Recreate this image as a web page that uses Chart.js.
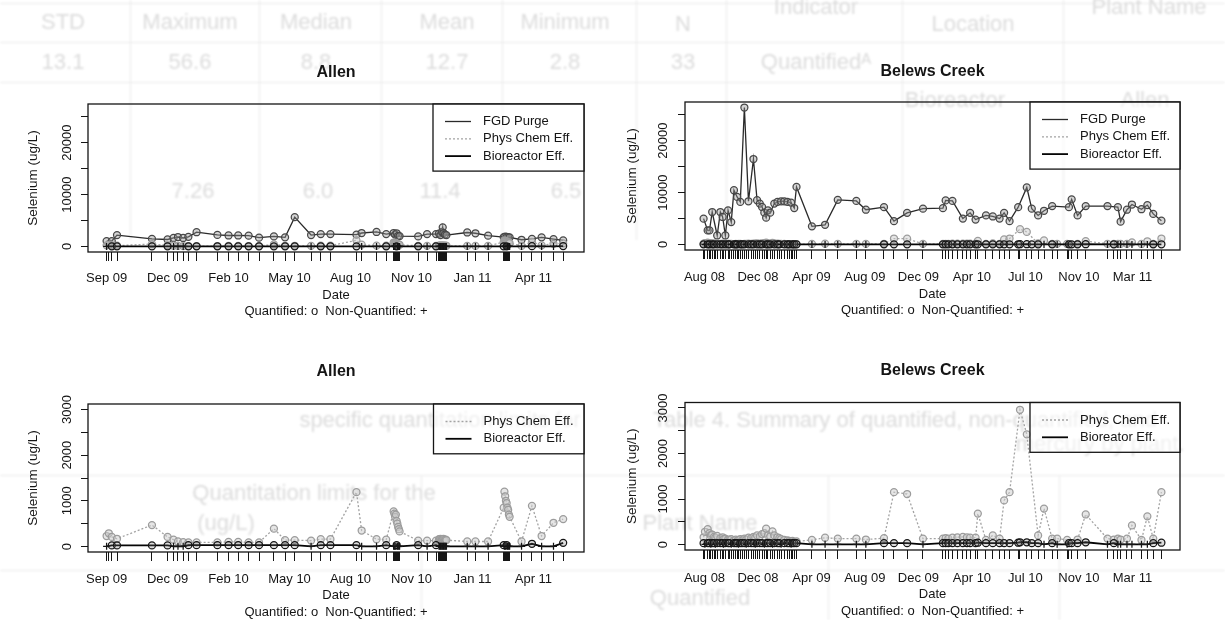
<!DOCTYPE html>
<html>
<head>
<meta charset="utf-8">
<script src="https://cdn.jsdelivr.net/npm/chart.js@4.4.1/dist/chart.umd.min.js"></script>
<style>
  html, body { margin: 0; padding: 0; background: #fff; }
  #page { position: relative; width: 1225px; height: 620px; overflow: hidden; background: #fff; }
  #page canvas { position: absolute; left: 0; top: 0; }
  #sheet { position: absolute; left: 0; top: 0; width: 1225px; height: 620px; filter: blur(1.1px); }
  #sheet span { position: absolute; transform: translate(-50%, -50%); white-space: nowrap;
                font-family: "Liberation Sans", Arial, sans-serif; font-size: 22px; color: #dcdcdc; }
  #sheet i { position: absolute; background: #e9e9e9; }
</style>
</head>
<body>
<div id="page">
  <div id="sheet"></div>
  <canvas id="allenTop" width="1225" height="620"></canvas>
  <canvas id="belewsTop" width="1225" height="620"></canvas>
  <canvas id="allenBottom" width="1225" height="620"></canvas>
  <canvas id="belewsBottom" width="1225" height="620"></canvas>
</div>
<script>
// ---------------- Allen: sampling dates and selenium results (ug/L) ----------------
const allenDates = [
  '2009-09-17','2009-09-20','2009-09-24','2009-10-01','2009-11-17','2009-12-08','2009-12-16','2009-12-22','2009-12-29',
  '2010-01-05','2010-01-16','2010-02-13','2010-02-28','2010-03-13','2010-03-27','2010-04-10','2010-04-30','2010-05-15',
  '2010-05-28','2010-06-19','2010-07-02','2010-07-15','2010-08-19','2010-08-26','2010-09-15','2010-09-28',
  '2010-10-08','2010-10-09','2010-10-10','2010-10-11','2010-10-12','2010-10-13','2010-10-14','2010-10-15','2010-10-16',
  '2010-11-10','2010-11-22','2010-12-04',
  '2010-12-08','2010-12-09','2010-12-10','2010-12-11','2010-12-12','2010-12-13','2010-12-14','2010-12-15','2010-12-16','2010-12-17','2010-12-18',
  '2011-01-15','2011-01-26','2011-02-12',
  '2011-03-05','2011-03-06','2011-03-07','2011-03-08','2011-03-09','2011-03-10','2011-03-11','2011-03-12','2011-03-13',
  '2011-03-29','2011-04-12','2011-04-25','2011-05-11','2011-05-24'
];
const allenFgdPurge = [
  1050, null, 1050, 2200, 1480, 1350, 1640, 1830, 1640,
  1870, 2750, 2230, 2120, 2120, 2080, 1700, 1950, 1760,
  5650, 2210, 2400, 2400, 2280, 2600, 2800, 2400,
  2600, null, 2300, null, 2550, null, 2050, null, 2000,
  1950, 2400, 2400,
  2500, null, 2200, null, 2800, 3700, 2600, null, 2300, null, 2200,
  2700, 2550, 2080,
  1800, null, 1900, null, 1850, null, 1800, null, 1750,
  1300, 1450, 1760, 1430, 1170
];
const allenPhysChem = [
  230, 290, 210, 170, 470, 210, 150, 110, 95,
  90, 90, 90, 100, 100, 90, 90, 390, 140,
  140, 130, 160, 160, 1190, 350, 160, 150,
  770, 720, 650, 700, 560, 500, 430, 380, 330,
  130, 130, 130,
  160, 150, 170, 140, 160, 150, 170, 140, 130, 150, 140,
  110, 110, 110,
  850, 1200, 1100, 1000, 950, 850, 800, 700, 650,
  110, 890, 230, 520, 600
];
const allenBioreactor = [
  5, null, 25, 25, 25, 25, 5, 5, 5,
  30, 30, 30, 30, 30, 30, 30, 30, 30,
  30, 5, 30, 30, 30, 5, 5, 30,
  5, 5, 5, 5, 30, 5, 5, 5, 5,
  30, 5, 30,
  5, 5, 5, 5, 5, 5, 5, 5, 5, 5, 5,
  5, 5, 5,
  30, 5, 5, 5, 30, 5, 5, 5, 5,
  5, 60, 5, 5, 80
];
// 1 = quantified result (o), 0 = non-quantified (+)
const allenBioreactorQuantified = [
  0, null, 1, 1, 1, 1, 0, 0, 0,
  1, 1, 1, 1, 1, 1, 1, 1, 1,
  1, 0, 1, 1, 1, 0, 0, 1,
  0, 0, 0, 0, 1, 0, 0, 0, 0,
  1, 0, 1,
  0, 0, 0, 0, 0, 0, 0, 0, 0, 0, 0,
  0, 0, 0,
  1, 0, 0, 0, 1, 0, 0, 0, 0,
  0, 1, 0, 0, 1
];
const allenTickDates = ['2009-09-17','2009-12-08','2010-02-28','2010-05-21','2010-08-11','2010-11-01','2011-01-22','2011-04-14'];
const allenTickLabels = ['Sep 09','Dec 09','Feb 10','May 10','Aug 10','Nov 10','Jan 11','Apr 11'];
const allenRange = ['2009-08-23', '2011-06-21'];

// ---------------- Belews Creek: sampling dates and selenium results (ug/L) ----------------
const belewsDates = [
  '2008-08-19','2008-08-22','2008-08-28','2008-09-01','2008-09-04','2008-09-07','2008-09-11','2008-09-14','2008-09-18','2008-09-25',
  '2008-09-30','2008-10-02','2008-10-06','2008-10-12','2008-10-15','2008-10-19','2008-10-25','2008-10-29','2008-11-01','2008-11-04',
  '2008-11-08','2008-11-12','2008-11-17','2008-11-21','2008-11-26','2008-12-02','2008-12-07','2008-12-11','2008-12-15','2008-12-21',
  '2008-12-26','2008-12-31','2009-01-04','2009-01-08','2009-01-13','2009-01-18','2009-01-22','2009-01-29','2009-02-02','2009-02-06',
  '2009-02-13','2009-02-20','2009-02-24','2009-02-28','2009-03-03','2009-03-07','2009-03-12',
  '2009-04-15','2009-05-14','2009-06-11','2009-07-22','2009-08-12','2009-09-21','2009-10-13','2009-11-11','2009-12-16',
  '2010-01-29','2010-02-04','2010-02-10','2010-02-19','2010-03-02','2010-03-14','2010-03-23','2010-03-30','2010-04-11','2010-04-16',
  '2010-05-04','2010-05-19','2010-06-03','2010-06-13','2010-06-25','2010-07-14','2010-07-18','2010-08-02','2010-08-13','2010-08-27',
  '2010-09-09','2010-09-27','2010-10-08','2010-10-30','2010-11-03','2010-11-09','2010-11-22','2010-12-10',
  '2011-01-27','2011-02-10','2011-02-19','2011-02-25','2011-03-11','2011-03-22','2011-04-12','2011-04-25','2011-05-08','2011-05-26'
];
const belewsFgdPurge = [
  4980, null, 2710, 2710, null, 6260, null, null, 1740, 6260,
  5300, null, 1740, 6590, null, 4320, 10460, null, 9170, null,
  8200, null, 26400, null, 8330, null, 16470, null, 8530, 7880,
  7230, 6140, 5170, 6590, 6140, null, 7880, 8200, null, 8330,
  8330, 8200, null, 8080, null, 7030, 11100,
  3500, 3800, 8600, 8400, 6700, 7200, 4500, 6100, 6900,
  7000, 8500, null, 8400, null, 5000, null, 6100, 4800, null,
  5600, 5400, 5000, 6100, 4500, 7200, null, 11000, 6900, 5600,
  6500, 7400, null, null, 7200, 8700, 5600, 7400,
  7400, null, 7200, 4400, 6700, 7700, 6800, 7600, 5900, 4600
];
const belewsPhysChem = [
  160, 280, 340, 250, 200, 220, 170, 150, 190, 140,
  160, 120, 130, 110, 100, 120, 90, 110, 80, 100,
  120, 90, 130, 110, 150, 140, 170, 150, 200, 180,
  230, 250, 350, 200, 180, 290, 200, 160, 140, 120,
  100, 90, 80, 70, 80, 60, 70,
  100, 150, 130, 130, 110, 140, 1150, 1110, 130,
  130, 140, 130, 150, 160, 170, 160, 150, 150, 680,
  100, 200, 130, 970, 1150, null, 2960, 2420, null, 200,
  790, 130, 130, 100, null, null, 110, 660,
  130, 110, 130, 110, 130, 420, 100, 620, 130, 1150
];
const belewsBioreactor = [
  30, 5, 30, 30, 5, 30, 30, 5, 30, 30,
  30, 5, 30, 30, 30, 5, 30, 30, 30, 5,
  30, 30, 30, 5, 30, 30, 30, 5, 30, 30,
  30, 5, 30, 30, 30, 5, 30, 30, 30, 5,
  30, 30, 30, 5, 30, 30, 30,
  5, 5, 5, 5, 5, 30, 30, 30, 5,
  30, 30, 30, 30, 30, 30, 30, 30, 30, 40,
  30, 30, 30, 30, 30, 40, 50, 50, 30, 30,
  5, 30, 5, 5, 30, 30, 30, 50,
  5, 30, 5, 5, 5, 5, 5, 5, 30, 40
];
const belewsBioreactorQuantified = [
  1, 0, 1, 1, 0, 1, 1, 0, 1, 1,
  1, 0, 1, 1, 1, 0, 1, 1, 1, 0,
  1, 1, 1, 0, 1, 1, 1, 0, 1, 1,
  1, 0, 1, 1, 1, 0, 1, 1, 1, 0,
  1, 1, 1, 0, 1, 1, 1,
  0, 0, 0, 0, 0, 1, 1, 1, 0,
  1, 1, 1, 1, 1, 1, 1, 1, 1, 1,
  1, 1, 1, 1, 1, 1, 1, 1, 1, 1,
  0, 1, 0, 0, 1, 1, 1, 1,
  0, 1, 0, 0, 0, 0, 0, 0, 1, 1
];
const belewsTickDates = ['2008-08-21','2008-12-17','2009-04-14','2009-08-10','2009-12-06','2010-04-03','2010-07-30','2010-11-25','2011-03-23'];
const belewsTickLabels = ['Aug 08','Dec 08','Apr 09','Aug 09','Dec 09','Apr 10','Jul 10','Nov 10','Mar 11'];
const belewsRange = ['2008-07-09', '2011-07-06'];

// y axes: full-scale panels and zoomed effluent panels
const fullTicks = [0, 5000, 10000, 15000, 20000, 25000];
const fullLabels = [0, 10000, 20000];
const fullLimits = [-1060, 27460];
const effTicks = [0, 500, 1000, 1500, 2000, 2500, 3000];
const effLabels = [0, 1000, 2000, 3000];
const effLimits = [-120, 3120];

// ---------------- faint print of the underlying report page ----------------
const sheetWords = [
  ['Plant Name', 1149, 7], ['Indicator', 816, 7], ['Location', 973, 24], ['N', 683, 24],
  ['Minimum', 565, 22], ['Mean', 447, 22], ['Median', 316, 22], ['Maximum', 190, 22], ['STD', 63, 22],
  ['33', 683, 62], ['Quantified\u1D2C', 816, 62], ['2.8', 565, 62], ['12.7', 447, 62], ['8.8', 316, 62],
  ['56.6', 190, 62], ['13.1', 63, 62],
  ['Allen', 1145, 100], ['Bioreactor', 955, 100],
  ['7.26', 193, 191], ['6.0', 318, 191], ['11.4', 440, 191], ['6.5', 566, 191],
  ['specific quantitation limits for', 440, 420],
  ['Table 4. Summary of quantified, non-quantified, and', 905, 420],
  ['mercury by plant.', 1100, 444],
  ['Quantitation limits for the', 314, 493], ['(ug/L)', 226, 523],
  ['Plant Name', 700, 523], ['Quantified', 700, 598]
];
const sheetRules = [
  // [left, top, width, height]
  [0, 3, 1225, 1], [0, 42, 1225, 1], [0, 82, 1225, 1],
  [130, 0, 1, 240], [259, 0, 1, 240], [381, 0, 1, 240], [502, 0, 1, 240],
  [636, 0, 1, 240], [726, 0, 1, 240], [902, 0, 1, 240], [1063, 0, 1, 240],
  [0, 475, 1225, 1], [0, 570, 1225, 1], [421, 475, 1, 145], [828, 475, 1, 145], [1059, 475, 1, 145]
];
(function drawSheet() {
  const sheet = document.getElementById('sheet');
  sheetRules.forEach(r => {
    const el = document.createElement('i');
    el.style.left = r[0] + 'px'; el.style.top = r[1] + 'px';
    el.style.width = r[2] + 'px'; el.style.height = r[3] + 'px';
    sheet.appendChild(el);
  });
  sheetWords.forEach(w => {
    const el = document.createElement('span');
    el.textContent = w[0];
    el.style.left = w[1] + 'px'; el.style.top = w[2] + 'px';
    sheet.appendChild(el);
  });
})();

// ---------------- drawing ----------------
const INK = '#151515';
const FAMILY = '"Liberation Sans", Arial, Helvetica, sans-serif';
const ms = s => Date.parse(s + 'T00:00:00Z');

function points(dates, values, flags) {
  const out = [];
  dates.forEach((d, i) => {
    if (values[i] === null || values[i] === undefined) return;
    out.push({ x: ms(d), y: values[i], q: flags ? flags[i] : 1 });
  });
  return out;
}

const STYLE = {
  fgd:  { line: '#2a2a2a', width: 1.3, dash: [], pt: '#474747', fill: 'rgba(150,150,150,0.4)' },
  phys: { line: '#a3a3a3', width: 1.3, dash: [2, 2], pt: '#9c9c9c', fill: 'rgba(205,205,205,0.5)' },
  bio:  { line: '#050505', width: 1.8, dash: [], pt: '#151515', fill: 'rgba(120,120,120,0.25)' }
};

function series(key, label, data, order) {
  const s = STYLE[key];
  return {
    label, data, order,
    borderColor: s.line, borderWidth: s.width, borderDash: s.dash,
    tension: 0, fill: false,
    pointStyle: c => (c.raw && c.raw.q === 0) ? 'cross' : 'circle',
    pointRadius: 3.5, pointBorderWidth: 1.25,
    pointBorderColor: s.pt, pointBackgroundColor: s.fill
  };
}

const rPanel = {
  id: 'rPanel',
  afterDatasetsDraw(chart, args, o) {
    const ctx = chart.ctx, a = chart.chartArea;
    const xs = chart.scales.x, ys = chart.scales.y;
    const cx = (a.left + a.right) / 2;
    ctx.save();
    ctx.fillStyle = INK;
    ctx.strokeStyle = INK;

    // plot frame
    ctx.lineWidth = 1.3;
    ctx.strokeRect(a.left, a.top, a.right - a.left, a.bottom - a.top);

    // legend
    const L = o.legend;
    const rowH = 17.3;
    const bottom = a.top + 17.5 + (L.items.length - 1) * rowH + 15;
    ctx.fillStyle = 'rgba(255,255,255,0.55)';
    ctx.fillRect(L.left, a.top, a.right - L.left, bottom - a.top);
    ctx.strokeRect(L.left, a.top, a.right - L.left, bottom - a.top);
    ctx.font = '13px ' + FAMILY;
    ctx.textAlign = 'left';
    ctx.textBaseline = 'middle';
    L.items.forEach((it, i) => {
      const y = a.top + 17.5 + i * rowH;
      const s = STYLE[it.key];
      ctx.save();
      ctx.strokeStyle = s.line;
      ctx.lineWidth = s.width;
      ctx.setLineDash(s.dash);
      ctx.beginPath();
      ctx.moveTo(L.left + 12, y);
      ctx.lineTo(L.left + 38, y);
      ctx.stroke();
      ctx.restore();
      ctx.fillStyle = INK;
      ctx.fillText(it.text, L.left + 50, y);
    });

    // y tick labels (rotated)
    ctx.fillStyle = INK;
    ctx.font = '13px ' + FAMILY;
    ctx.textAlign = 'center';
    ctx.textBaseline = 'middle';
    o.yLabels.forEach(v => {
      ctx.save();
      ctx.translate(o.yLabelX, ys.getPixelForValue(v));
      ctx.rotate(-Math.PI / 2);
      ctx.fillText(String(v), 0, 0);
      ctx.restore();
    });

    // x tick labels
    o.xTickDates.forEach((d, i) => {
      ctx.fillText(o.xTickLabels[i], xs.getPixelForValue(ms(d)), o.xLabelY);
    });

    // axis titles and note
    ctx.fillText('Date', cx, o.dateY);
    ctx.fillText('Quantified: o  Non-Quantified: +', cx, o.noteY);
    ctx.save();
    ctx.font = '13.5px ' + FAMILY;
    ctx.translate(o.yTitleX, (a.top + a.bottom) / 2);
    ctx.rotate(-Math.PI / 2);
    ctx.fillText('Selenium (ug/L)', 0, 0);
    ctx.restore();

    // panel title
    ctx.font = 'bold 16px ' + FAMILY;
    ctx.fillText(o.title, cx, o.titleY);
    ctx.restore();
  }
};

function panel(canvasId, cfg) {
  const sizeY = 10, sizeX = 10;
  const allDates = cfg.dates.map(ms);
  new Chart(document.getElementById(canvasId), {
    type: 'line',
    data: { datasets: cfg.datasets },
    options: {
      responsive: false,
      animation: false,
      devicePixelRatio: 1,
      events: [],
      layout: {
        padding: {
          left: cfg.box.l - sizeY,
          top: cfg.box.t,
          right: 1225 - cfg.box.r,
          bottom: 620 - cfg.box.b - sizeX
        }
      },
      scales: {
        x: {
          type: 'linear',
          min: ms(cfg.range[0]),
          max: ms(cfg.range[1]),
          afterBuildTicks: s => { s.ticks = allDates.map(v => ({ value: v })); },
          afterFit: s => { s.height = sizeX; },
          ticks: { display: false, autoSkip: false },
          grid: { display: true, drawOnChartArea: false, drawTicks: true, tickLength: 9, color: INK, lineWidth: 1 },
          border: { display: false }
        },
        y: {
          type: 'linear',
          min: cfg.limits[0],
          max: cfg.limits[1],
          afterBuildTicks: s => { s.ticks = cfg.yTicks.map(v => ({ value: v })); },
          afterFit: s => { s.width = sizeY; },
          ticks: { display: false },
          grid: { display: true, drawOnChartArea: false, drawTicks: true, tickLength: 7, color: INK, lineWidth: 1 },
          border: { display: false }
        }
      },
      plugins: {
        legend: { display: false },
        title: { display: false },
        tooltip: { enabled: false },
        rPanel: cfg.deco
      }
    },
    plugins: [rPanel]
  });
}

// Allen, all three streams
panel('allenTop', {
  box: { l: 88, t: 104, r: 584, b: 252 },
  range: allenRange, limits: fullLimits, yTicks: fullTicks, dates: allenDates,
  datasets: [
    series('fgd', 'FGD Purge', points(allenDates, allenFgdPurge), 3),
    series('phys', 'Phys Chem Eff.', points(allenDates, allenPhysChem), 2),
    series('bio', 'Bioreactor Eff.', points(allenDates, allenBioreactor, allenBioreactorQuantified), 1)
  ],
  deco: {
    title: 'Allen', titleY: 73, yLabels: fullLabels, yLabelX: 67, yTitleX: 33,
    xTickDates: allenTickDates, xTickLabels: allenTickLabels, xLabelY: 278, dateY: 295, noteY: 311,
    legend: { left: 433, items: [
      { key: 'fgd', text: 'FGD Purge' }, { key: 'phys', text: 'Phys Chem Eff.' }, { key: 'bio', text: 'Bioreactor Eff.' }
    ] }
  }
});

// Belews Creek, all three streams
panel('belewsTop', {
  box: { l: 685, t: 102, r: 1180, b: 250 },
  range: belewsRange, limits: fullLimits, yTicks: fullTicks, dates: belewsDates,
  datasets: [
    series('fgd', 'FGD Purge', points(belewsDates, belewsFgdPurge), 3),
    series('phys', 'Phys Chem Eff.', points(belewsDates, belewsPhysChem), 2),
    series('bio', 'Bioreactor Eff.', points(belewsDates, belewsBioreactor, belewsBioreactorQuantified), 1)
  ],
  deco: {
    title: 'Belews Creek', titleY: 72, yLabels: fullLabels, yLabelX: 663, yTitleX: 632,
    xTickDates: belewsTickDates, xTickLabels: belewsTickLabels, xLabelY: 277.5, dateY: 294, noteY: 310,
    legend: { left: 1030, items: [
      { key: 'fgd', text: 'FGD Purge' }, { key: 'phys', text: 'Phys Chem Eff.' }, { key: 'bio', text: 'Bioreactor Eff.' }
    ] }
  }
});

// Allen, treatment effluents only
panel('allenBottom', {
  box: { l: 88, t: 404, r: 584, b: 552 },
  range: allenRange, limits: effLimits, yTicks: effTicks, dates: allenDates,
  datasets: [
    series('phys', 'Phys Chem Eff.', points(allenDates, allenPhysChem), 2),
    series('bio', 'Bioreactor Eff.', points(allenDates, allenBioreactor, allenBioreactorQuantified), 1)
  ],
  deco: {
    title: 'Allen', titleY: 372, yLabels: effLabels, yLabelX: 67, yTitleX: 33,
    xTickDates: allenTickDates, xTickLabels: allenTickLabels, xLabelY: 579, dateY: 595, noteY: 612,
    legend: { left: 433.5, items: [
      { key: 'phys', text: 'Phys Chem Eff.' }, { key: 'bio', text: 'Bioreactor Eff.' }
    ] }
  }
});

// Belews Creek, treatment effluents only
panel('belewsBottom', {
  box: { l: 685, t: 402.5, r: 1180, b: 550 },
  range: belewsRange, limits: effLimits, yTicks: effTicks, dates: belewsDates,
  datasets: [
    series('phys', 'Phys Chem Eff.', points(belewsDates, belewsPhysChem), 2),
    series('bio', 'Bioreator Eff.', points(belewsDates, belewsBioreactor, belewsBioreactorQuantified), 1)
  ],
  deco: {
    title: 'Belews Creek', titleY: 371, yLabels: effLabels, yLabelX: 663, yTitleX: 632,
    xTickDates: belewsTickDates, xTickLabels: belewsTickLabels, xLabelY: 578.5, dateY: 594, noteY: 611,
    legend: { left: 1030, items: [
      { key: 'phys', text: 'Phys Chem Eff.' }, { key: 'bio', text: 'Bioreator Eff.' }
    ] }
  }
});
</script>
</body>
</html>
